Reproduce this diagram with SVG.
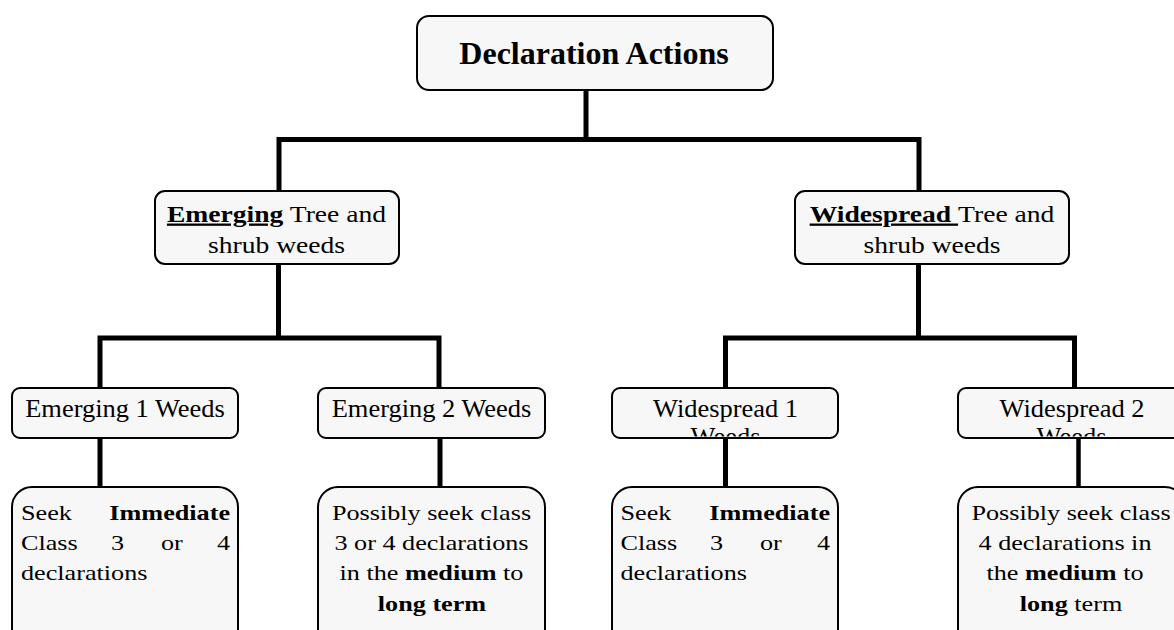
<svg xmlns="http://www.w3.org/2000/svg" width="1174" height="630" viewBox="0 0 1174 630">
<style>
.box{fill:#f7f7f7;stroke:#000;stroke-width:2}
.t{font-family:"Liberation Serif","Times New Roman",serif;fill:#000}
.t23{font-size:23px}
.t24{font-size:24.5px}
.t22{font-size:22px}
.b{font-weight:bold}
.conn{fill:none;stroke:#000;stroke-width:5;stroke-linejoin:miter}
</style>
<defs>
<clipPath id="cw1"><rect x="612" y="389" width="226" height="47.5"/></clipPath>
<clipPath id="cw2"><rect x="958" y="389" width="227" height="47.5"/></clipPath>
</defs>
<g id="connectors">
<path class="conn" d="M586 90 V139.5"/>
<path class="conn" d="M279 191 V139.5 H919 V191"/>
<path class="conn" d="M278.5 264 V338"/>
<path class="conn" d="M100 388 V338 H439 V388"/>
<path class="conn" d="M918.5 264 V338"/>
<path class="conn" d="M725.5 388 V338 H1074.5 V388"/>
<path class="conn" d="M100 438 V487"/>
<path class="conn" d="M440 438 V487"/>
<path class="conn" d="M725.5 438 V487"/>
<path class="conn" style="stroke-width:4.5" d="M1078.5 438 V487"/>
</g>
<g id="declaration-actions">
<rect class="box" x="417" y="16" width="356" height="74" rx="12"/>
<text class="t b" font-size="32" x="594" y="64.3" text-anchor="middle">Declaration Actions</text>
</g>
<g id="emerging-tree">
<rect class="box" x="155" y="191" width="244" height="73" rx="10"/>
<text class="t t23" text-anchor="middle" transform="translate(276.5 221.7) scale(1.2 1)"><tspan class="b" text-decoration="underline">Emerging</tspan> Tree and</text>
<text class="t t23" text-anchor="middle" transform="translate(276.5 253.3) scale(1.2 1)">shrub weeds</text>
</g>
<g id="widespread-tree">
<rect class="box" x="795" y="191" width="274" height="73" rx="10"/>
<text class="t t23" text-anchor="middle" transform="translate(932 221.7) scale(1.2 1)"><tspan class="b" text-decoration="underline">Widespread </tspan>Tree and</text>
<text class="t t23" text-anchor="middle" transform="translate(932 253.3) scale(1.2 1)">shrub weeds</text>
</g>
<g id="emerging-1">
<rect class="box" x="12" y="388" width="226" height="50" rx="8"/>
<text class="t t24" text-anchor="middle" transform="translate(125 416.5) scale(1.08 1)">Emerging 1 Weeds</text>
</g>
<g id="emerging-2">
<rect class="box" x="318" y="388" width="227" height="50" rx="8"/>
<text class="t t24" text-anchor="middle" transform="translate(431.5 416.5) scale(1.08 1)">Emerging 2 Weeds</text>
</g>
<g id="widespread-1">
<rect class="box" x="612" y="388" width="226" height="50" rx="8"/>
<g clip-path="url(#cw1)">
<text class="t t24" text-anchor="middle" transform="translate(725.5 416.5) scale(1.08 1)">Widespread 1</text>
<text class="t t24" text-anchor="middle" transform="translate(725.5 444.5) scale(1.08 1)">Weeds</text>
</g>
</g>
<g id="widespread-2">
<rect class="box" x="958" y="388" width="227" height="50" rx="8"/>
<g clip-path="url(#cw2)">
<text class="t t24" text-anchor="middle" transform="translate(1072 416.5) scale(1.08 1)">Widespread 2</text>
<text class="t t24" text-anchor="middle" transform="translate(1071.5 444.5) scale(1.08 1)">Weeds</text>
</g>
</g>
<g id="emerging-1-action">
<rect class="box" x="12" y="487" width="226" height="170" rx="20"/>
<text class="t t22" transform="translate(21 519.5) scale(1.19 1)">Seek</text>
<text class="t t22 b" text-anchor="end" transform="translate(230 519.5) scale(1.19 1)">Immediate</text>
<text class="t t22" transform="translate(21 549.5) scale(1.19 1)">Class</text>
<text class="t t22" transform="translate(111 549.5) scale(1.19 1)">3</text>
<text class="t t22" transform="translate(161 549.5) scale(1.19 1)">or</text>
<text class="t t22" text-anchor="end" transform="translate(230 549.5) scale(1.19 1)">4</text>
<text class="t t22" transform="translate(21 580) scale(1.19 1)">declarations</text>
</g>
<g id="emerging-2-action">
<rect class="box" x="318" y="487" width="227" height="170" rx="20"/>
<text class="t t22" text-anchor="middle" transform="translate(431.5 519.5) scale(1.19 1)">Possibly seek class</text>
<text class="t t22" text-anchor="middle" transform="translate(431.5 549.5) scale(1.19 1)">3 or 4 declarations</text>
<text class="t t22" text-anchor="middle" transform="translate(431.5 580) scale(1.19 1)">in the <tspan class="b">medium</tspan> to</text>
<text class="t t22 b" text-anchor="middle" transform="translate(432 610.5) scale(1.19 1)">long term</text>
</g>
<g id="widespread-1-action">
<rect class="box" x="612" y="487" width="226" height="170" rx="20"/>
<text class="t t22" transform="translate(620.5 519.5) scale(1.19 1)">Seek</text>
<text class="t t22 b" text-anchor="end" transform="translate(830 519.5) scale(1.19 1)">Immediate</text>
<text class="t t22" transform="translate(620.5 549.5) scale(1.19 1)">Class</text>
<text class="t t22" transform="translate(710 549.5) scale(1.19 1)">3</text>
<text class="t t22" transform="translate(760 549.5) scale(1.19 1)">or</text>
<text class="t t22" text-anchor="end" transform="translate(830 549.5) scale(1.19 1)">4</text>
<text class="t t22" transform="translate(620.5 580) scale(1.19 1)">declarations</text>
</g>
<g id="widespread-2-action">
<rect class="box" x="958" y="487" width="227" height="170" rx="20"/>
<text class="t t22" text-anchor="middle" transform="translate(1071 519.5) scale(1.19 1)">Possibly seek class</text>
<text class="t t22" text-anchor="middle" transform="translate(1065 549.5) scale(1.19 1)">4 declarations in</text>
<text class="t t22" text-anchor="middle" transform="translate(1065 580) scale(1.19 1)">the <tspan class="b">medium</tspan> to</text>
<text class="t t22" text-anchor="middle" transform="translate(1071 610.5) scale(1.19 1)"><tspan class="b">long</tspan> term</text>
</g>
</svg>
